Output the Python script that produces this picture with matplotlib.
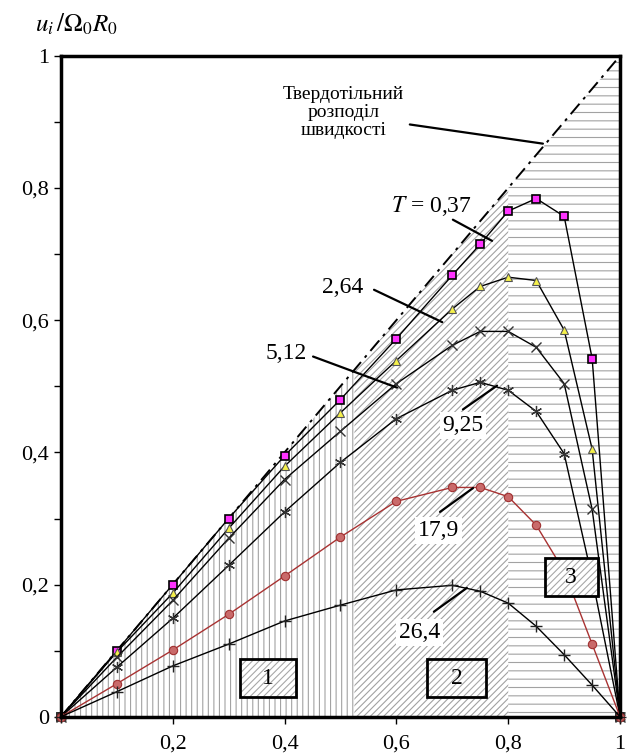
import numpy as np
import matplotlib
matplotlib.use("Agg")
import matplotlib.pyplot as plt
from matplotlib.patches import Rectangle

plt.rcParams["font.family"] = ["Liberation Serif", "DejaVu Serif"]
plt.rcParams["mathtext.fontset"] = "stix"
plt.rcParams["hatch.linewidth"] = 0.8

# radial positions of the computed points
r = [0, 0.1, 0.2, 0.3, 0.4, 0.5, 0.6, 0.7, 0.75, 0.8, 0.85, 0.9, 0.95, 1.0]
u_037 = [0, 0.1, 0.2, 0.3, 0.395, 0.48, 0.572, 0.668, 0.715, 0.765, 0.784, 0.757, 0.542, 0]
u_264 = [0, 0.098, 0.187, 0.285, 0.379, 0.46, 0.539, 0.617, 0.651, 0.665, 0.66, 0.585, 0.405, 0]
u_512 = [0, 0.09, 0.176, 0.27, 0.359, 0.432, 0.504, 0.562, 0.583, 0.583, 0.559, 0.504, 0.314, 0]
u_925 = [0, 0.075, 0.149, 0.229, 0.31, 0.385, 0.451, 0.494, 0.506, 0.494, 0.462, 0.398, 0.21, 0]
u_179 = [0, 0.05, 0.101, 0.155, 0.213, 0.272, 0.326, 0.347, 0.347, 0.333, 0.29, 0.22, 0.11, 0]
u_264b = [0, 0.038, 0.077, 0.11, 0.145, 0.169, 0.192, 0.199, 0.19, 0.172, 0.137, 0.094, 0.048, 0]

# zone borders (1: vertical hatch, 2: diagonal, 3: horizontal)
zone_edges = [0, 0.525, 0.8, 1.0]
zone_hatch = ["|||", "/////", "--"]
zone_names = ["1", "2", "3"]
zone_boxes = [(0.32, 0.03, 0.10, 0.057), (0.655, 0.03, 0.105, 0.057), (0.865, 0.183, 0.095, 0.057)]

yticks = [0, 0.2, 0.4, 0.6, 0.8, 1.0]
ylabels = ["0", "0,2", "0,4", "0,6", "0,8", "1"]
xticks = [0.2, 0.4, 0.6, 0.8, 1.0]
xlabels = ["0,2", "0,4", "0,6", "0,8", "1"]

fig = plt.figure(figsize=(6.27, 7.53), dpi=100)
ax = fig.add_axes([0.097, 0.048, 0.892, 0.878])

# hatched zones under the solid-body line
for i in range(3):
    xs = np.array([zone_edges[i], zone_edges[i + 1]])
    ax.fill_between(xs, 0, xs, facecolor="none", edgecolor="#a2a2a2",
                    hatch=zone_hatch[i], linewidth=0, zorder=1)

# solid-body rotation line
ax.plot([0, 1], [0, 1], color="black", lw=1.4, ls=(0, (7, 3, 1.5, 3)), zorder=2)

ax.plot(r, u_037, color="black", lw=1, marker="s", ms=5.5, mfc="#ff33ff",
        mec="black", mew=1.2, zorder=3, clip_on=False)
ax.plot(r, u_264, color="black", lw=1, marker="^", ms=5.5, mfc="#f5f04a",
        mec="#555555", mew=0.8, zorder=3, clip_on=False)
ax.plot(r, u_512, color="black", lw=1, marker="x", ms=7, mec="#333333",
        mew=1, zorder=3, clip_on=False)
ax.plot(r, u_925, color="black", lw=1, marker=(6, 2, 0), ms=8, mec="#333333",
        mew=0.9, zorder=3, clip_on=False)
ax.plot(r, u_179, color="#a83232", lw=1, marker="o", ms=6, mfc="#c96a6a",
        mec="#a03030", mew=0.8, zorder=3, clip_on=False)
ax.plot(r, u_264b, color="black", lw=1, marker="+", ms=8, mec="#222222",
        mew=1, zorder=3, clip_on=False)

# zone label boxes
for (bx, by, bw, bh), name in zip(zone_boxes, zone_names):
    ax.add_patch(Rectangle((bx, by), bw, bh, facecolor="white", edgecolor="#a8a8a8",
                           hatch="/////", linewidth=0, zorder=5))
    ax.add_patch(Rectangle((bx, by), bw, bh, facecolor="none", edgecolor="black",
                           linewidth=2, zorder=6))
    ax.text(bx + bw / 2, by + bh / 2, name, ha="center", va="center",
            fontsize=17, zorder=7)

line_kw = dict(arrowstyle="-", color="black", lw=1.6, shrinkA=0, shrinkB=0)
white = dict(facecolor="white", edgecolor="none", pad=2)

ax.annotate("", xy=(0.862, 0.867), xytext=(0.624, 0.896), arrowprops=line_kw, zorder=8)
ax.text(0.505, 0.914, "Твердотільний\nрозподіл\nшвидкості", ha="center", va="center",
        fontsize=14, linespacing=1.1, zorder=8)

curve_notes = [
    ("$T$ = 0,37", (0.662, 0.773), (0.701, 0.752), (0.771, 0.72), None),
    ("2,64", (0.503, 0.65), (0.56, 0.646), (0.682, 0.597), None),
    ("5,12", (0.403, 0.55), (0.451, 0.545), (0.601, 0.498), None),
    ("9,25", (0.719, 0.441), (0.719, 0.465), (0.78, 0.501), white),
    ("17,9", (0.676, 0.282), (0.678, 0.31), (0.737, 0.346), white),
    ("26,4", (0.642, 0.128), (0.667, 0.159), (0.726, 0.195), white),
]
for label, tpos, p0, p1, box in curve_notes:
    ax.annotate("", xy=p1, xytext=p0, arrowprops=line_kw, zorder=8)
    ax.text(tpos[0], tpos[1], label, ha="center", va="center", fontsize=17,
            bbox=box, zorder=8)

ax.set_xlim(0, 1)
ax.set_ylim(0, 1)
ax.set_xticks(xticks)
ax.set_xticklabels(xlabels)
ax.set_yticks(yticks)
ax.set_yticklabels(ylabels)
ax.set_yticks(np.arange(0.1, 1.0, 0.2), minor=True)
ax.tick_params(axis="both", labelsize=16, direction="out", length=5, width=1)
ax.tick_params(axis="y", which="minor", length=5, width=1)
ax.tick_params(axis="x", pad=8)
for s in ax.spines.values():
    s.set_linewidth(2.5)
    s.set_zorder(10)

fig.text(0.056, 0.967, r"$u_i\,/\Omega_0 R_0$", fontsize=18, ha="left", va="center")

fig.savefig("out.png", dpi=100)
